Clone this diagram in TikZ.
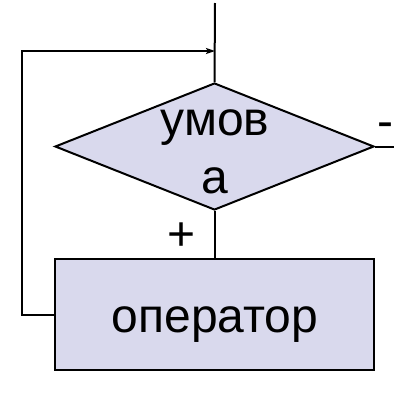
\documentclass[tikz,border=0pt]{standalone}
\usepackage{fontspec}
\setmainfont{Liberation Sans}
\usetikzlibrary{shapes.geometric,arrows.meta}
\definecolor{blockfill}{RGB}{217,217,237}
\tikzset{
  flow/.style={line width=2pt, draw=black},
  block/.style={flow, fill=blockfill, inner sep=0pt},
  txt/.style={inner sep=0pt, anchor=base, font=\fontsize{48}{56}\selectfont},
}
\begin{document}
\begin{tikzpicture}[x=1pt, y=-1pt]
  \useasboundingbox (0,0) rectangle (394,402);

  % condition and the loop body
  \node[block, diamond, minimum width=319pt, minimum height=127pt] (cond) at (214.5,146.5) {};
  \node[block, rectangle, minimum width=319pt, minimum height=111pt] (op) at (214.5,314.5) {};

  % texts
  \node[txt] (condA) at (215,135) {умов};
  \node[txt] (condB) at (215,193) {а};
  \node[txt] (opT) at (215,332) {оператор};
  \node[txt] (plus) at (182,250) {+};
  \node[txt] (minus) at (385,137) {-};

  % free ends of the connectors
  \coordinate (entry) at (215,3);
  \coordinate (back) at (215,51);
  \coordinate (exit) at (394,146.5);

  % connectors
  \draw[flow] (entry) -- (cond.north);
  \draw[flow] (cond.south) -- (op.north);
  \draw[flow] (cond.east) -- (exit);
  \draw[flow, -{Stealth[length=9pt, width=6pt, inset=2pt]}] (op.west) -- ++(-32,0) |- (back);
\end{tikzpicture}
\end{document}
